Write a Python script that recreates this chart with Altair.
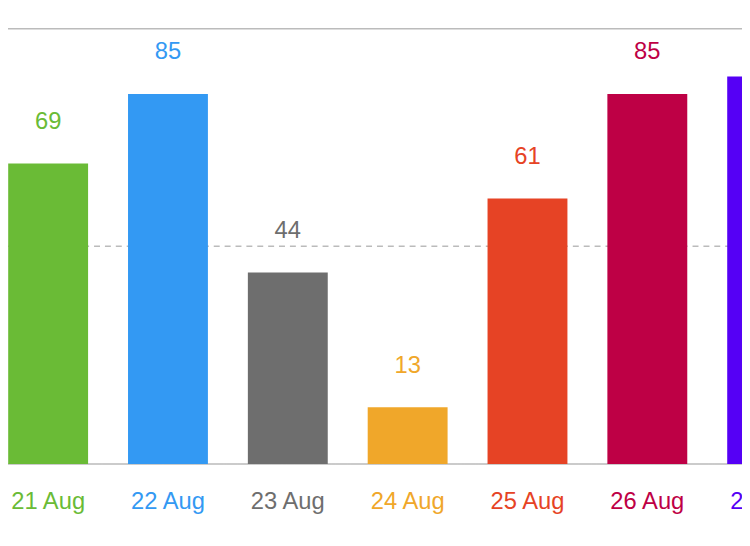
import altair as alt
import pandas as pd

days = ["21 Aug", "22 Aug", "23 Aug", "24 Aug", "25 Aug", "26 Aug", "27 Aug"]
values = [69, 85, 44, 13, 61, 85, 89]
colors = ["#6ABB36", "#3399F3", "#6E6E6E", "#F0A72A", "#E64325", "#BE0045", "#5500F5"]

df = pd.DataFrame({"day": days, "value": values})
font = "Liberation Sans"

x = alt.X("day:N", sort=days, axis=None,
          scale=alt.Scale(range=[-20, 828], paddingInner=1/3, paddingOuter=1/6, round=False))
y_scale = alt.Scale(domain=[0, 100])
color = alt.Color("day:N", scale=alt.Scale(domain=days, range=colors), legend=None)

grid = pd.DataFrame({"v": [100, 50, 0], "dash": ["solid", "dashed", "solid"]})
rules = (
    alt.Chart(grid)
    .mark_rule(color="#BBBBBB", strokeWidth=1.5)
    .encode(
        y=alt.Y("v:Q", scale=y_scale, axis=None),
        strokeDash=alt.StrokeDash("dash:N", scale=alt.Scale(domain=["solid", "dashed"], range=[[1, 0], [6, 5]]), legend=None),
    )
)

base = alt.Chart(df)
bars = base.mark_bar(clip=True).encode(x=x, y=alt.Y("value:Q", scale=y_scale, axis=None), color=color)
vals = base.mark_text(clip=True, fontSize=24, font=font, baseline="middle", dy=-42).encode(
    x=x, y=alt.Y("value:Q", scale=y_scale), text="value:Q", color=color
)
labels = base.mark_text(fontSize=24, font=font, baseline="middle").encode(
    x=x, y=alt.value(479), text="day:N", color=color
)

chart = (
    alt.layer(rules, bars, vals, labels)
    .properties(width=742, height=440, autosize=alt.AutoSizeParams(type="none"),
                padding={"top": 18, "left": 0, "right": 0, "bottom": 70})
    .configure_view(stroke=None)
)
chart.save("out.html", embed_options={"renderer": "svg", "actions": False})
